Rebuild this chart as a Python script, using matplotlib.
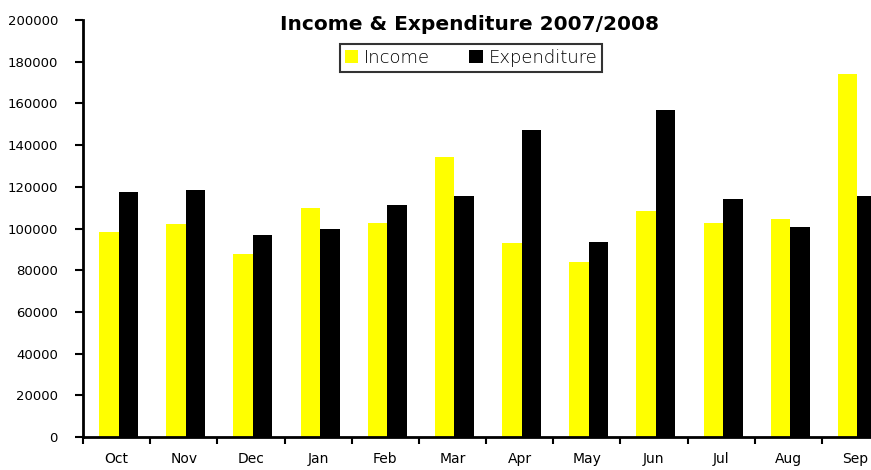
import matplotlib
matplotlib.use("Agg")
import matplotlib.pyplot as plt
import numpy as np

months = ["Oct", "Nov", "Dec", "Jan", "Feb", "Mar", "Apr", "May", "Jun", "Jul", "Aug", "Sep"]
income = [98500, 102200, 87800, 109800, 102600, 134300, 93000, 83900, 108400, 102600, 104500, 174100]
expenditure = [117400, 118500, 96700, 99700, 111300, 115600, 147100, 93500, 156700, 114100, 100700, 115600]
y_ticks = list(range(0, 200001, 20000))

plt.rcParams["font.family"] = ["DejaVu Sans"]

fig = plt.figure(figsize=(8.71, 4.70), dpi=100)
# axes runs past the right edge of the figure, as in the original (Sep is clipped)
ax = fig.add_axes([83 / 871, 33 / 470, 806 / 871, 417 / 470])

x = np.arange(len(months))
w = 0.29
ax.bar(x + 0.03 - w / 2, income, width=w, color="#ffff00", label="Income")
ax.bar(x + 0.03 + w / 2, expenditure, width=w, color="black", label="Expenditure")

ax.set_xlim(-0.5, len(months) - 0.5)
ax.set_ylim(0, 200000)
ax.set_yticks(y_ticks)
ax.set_yticklabels([str(v) for v in y_ticks], fontsize=9.5)
ax.set_xticks(x)
ax.set_xticklabels(months, fontsize=10)
ax.set_xticks(np.arange(len(months) + 1) - 0.5, minor=True)
ax.tick_params(axis="x", which="major", length=0, pad=11)
ax.tick_params(axis="x", which="minor", length=5, width=1.5, direction="out")
ax.tick_params(axis="y", length=6, width=1.5, pad=12)

for side in ["top", "right"]:
    ax.spines[side].set_visible(False)
for side in ["left", "bottom"]:
    ax.spines[side].set_linewidth(2)

fig.text(470 / 871, 1 - 25 / 470, "Income & Expenditure 2007/2008",
         ha="center", va="center", fontsize=14.5, fontweight="bold")

leg = ax.legend(loc="center", bbox_to_anchor=(471 / 871, 1 - 58 / 470),
                bbox_transform=fig.transFigure, ncol=2, frameon=True, fancybox=False,
                fontsize=13, handlelength=0.75, handleheight=0.75, handletextpad=0.3,
                columnspacing=2.2, borderpad=0.25, borderaxespad=0)
leg.get_frame().set_edgecolor("black")
leg.get_frame().set_linewidth(1.5)
for t in leg.get_texts():
    t.set_fontweight("light")
    t.set_color("black")

fig.savefig("out.png", dpi=100)
